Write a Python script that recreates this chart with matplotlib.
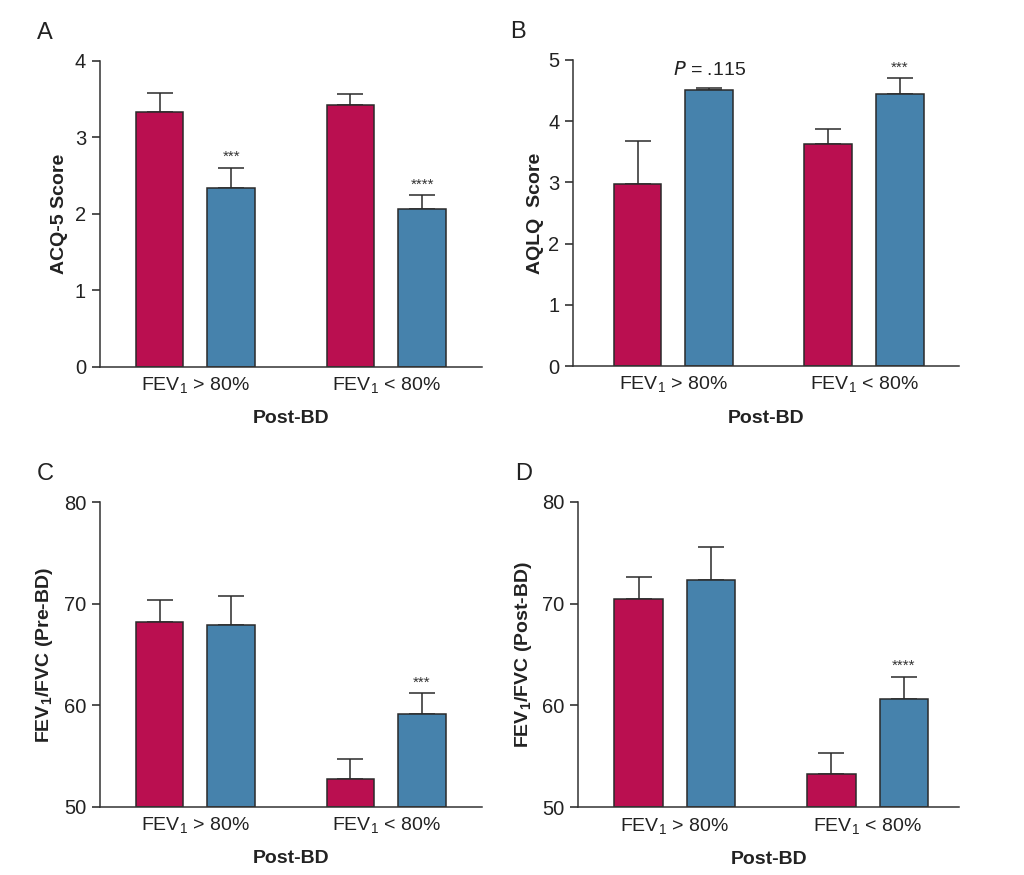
import numpy as np
import matplotlib
matplotlib.use('Agg')
import matplotlib.pyplot as plt

plt.rcParams['font.family'] = ['Liberation Sans', 'DejaVu Sans']
plt.rcParams['mathtext.default'] = 'regular'

red = '#BA0F50'
blue = '#4682AC'
edge = '#2a2a2a'

groups = [r'FEV$_{1}$ > 80%', r'FEV$_{1}$ < 80%']

# panel A: ACQ-5
acq_mean = [3.33, 2.33, 3.42, 2.06]
acq_err = [0.25, 0.27, 0.14, 0.18]
# panel B: AQLQ
aqlq_mean = [2.97, 4.51, 3.62, 4.44]
aqlq_err = [0.70, 0.04, 0.26, 0.26]
# panel C: FEV1/FVC pre-BD
pre_mean = [68.2, 67.9, 52.7, 59.1]
pre_err = [2.2, 2.9, 2.0, 2.1]
# panel D: FEV1/FVC post-BD
post_mean = [70.4, 72.3, 53.3, 60.6]
post_err = [2.2, 3.3, 2.0, 2.2]

panels = [
    dict(letter='A', ylabel='ACQ-5 Score', mean=acq_mean, err=acq_err,
         ylim=(0, 4), yticks=[0, 1, 2, 3, 4], stars={1: '***', 3: '****'},
         rect=[100, 60.7, 481.7, 366.7], xl=(0, 8), lp=5),
    dict(letter='B', ylabel='AQLQ  Score', mean=aqlq_mean, err=aqlq_err,
         ylim=(0, 5), yticks=[0, 1, 2, 3, 4, 5], stars={3: '***'},
         rect=[573.3, 60, 959.3, 366], xl=(-0.1, 8.0), lp=3),
    dict(letter='C', ylabel=r'FEV$_{1}$/FVC (Pre-BD)', mean=pre_mean, err=pre_err,
         ylim=(50, 80), yticks=[50, 60, 70, 80], stars={3: '***'},
         rect=[100, 502.3, 481.7, 806.7], xl=(0, 8), lp=6),
    dict(letter='D', ylabel=r'FEV$_{1}$/FVC (Post-BD)', mean=post_mean, err=post_err,
         ylim=(50, 80), yticks=[50, 60, 70, 80], stars={3: '****'},
         rect=[578.3, 501.7, 959.3, 807.3], xl=(0.0, 7.9), lp=6),
]

W, H = 1024, 875
fig = plt.figure(figsize=(W / 100, H / 100), dpi=100)

xpos = [1.25, 2.75, 5.25, 6.75]
colors = [red, blue, red, blue]

for p in panels:
    l, t, r, b = p['rect']
    ax = fig.add_axes([l / W, 1 - b / H, (r - l) / W, (b - t) / H])
    ax.bar(xpos, np.array(p['mean']) - p['ylim'][0], bottom=p['ylim'][0],
           width=1.0, color=colors, edgecolor=edge, linewidth=1.1, zorder=2)
    ax.errorbar(xpos, p['mean'], yerr=[np.zeros(4), p['err']], fmt='none',
                ecolor=edge, elinewidth=1.1, capsize=9.5, capthick=1.1, zorder=1)
    span = p['ylim'][1] - p['ylim'][0]
    for i, s in p['stars'].items():
        ax.text(xpos[i], p['mean'][i] + p['err'][i] + 0.012 * span, s,
                ha='center', va='bottom', fontsize=11, color='#333333')
    if p['letter'] == 'B':
        ax.text(xpos[1], 4.84, r'$\it{P}$ = .115', ha='center', va='center',
                fontsize=14, color='#222222')
    ax.set_xlim(*p['xl'])
    ax.set_ylim(*p['ylim'])
    ax.set_yticks(p['yticks'])
    ax.set_xticks([2.0, 6.0])
    ax.set_xticklabels(groups)
    ax.tick_params(axis='x', length=0, pad=6, labelsize=14, colors='#222222')
    ax.tick_params(axis='y', direction='out', length=6, width=1.1, pad=4,
                   labelsize=14.5, colors='#222222')
    for s in ['top', 'right']:
        ax.spines[s].set_visible(False)
    for s in ['left', 'bottom']:
        ax.spines[s].set_linewidth(1.1)
        ax.spines[s].set_color('#333333')
    ax.set_ylabel(p['ylabel'], fontsize=14, fontweight='bold', labelpad=p['lp'],
                  color='#222222')
    ax.set_xlabel('Post-BD', fontsize=14, fontweight='bold', labelpad=11,
                  color='#222222')
    fig.text((l - 63) / W, 1 - (t - 28) / H, p['letter'], fontsize=17,
             ha='left', va='center', color='#222222')

fig.savefig('out.png', dpi=100, facecolor='white')
